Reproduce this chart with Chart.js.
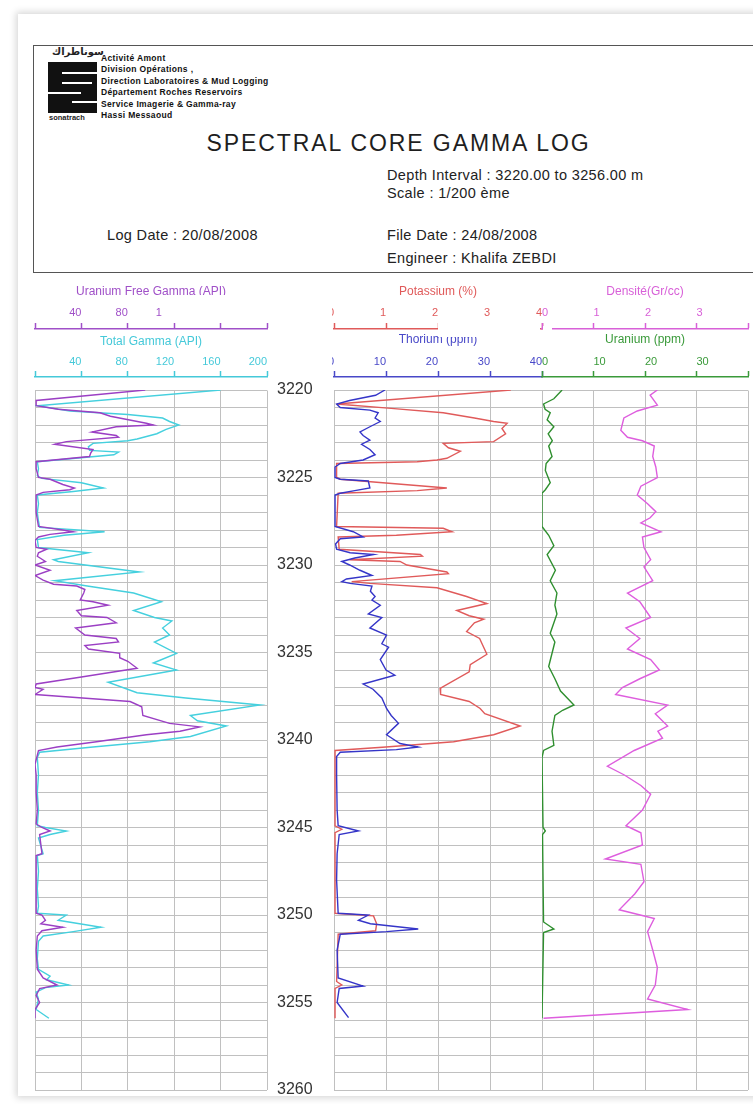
<!DOCTYPE html>
<html>
<head>
<meta charset="utf-8">
<title>Spectral Core Gamma Log</title>
<script src="https://cdn.jsdelivr.net/npm/chart.js@4.4.1/dist/chart.umd.min.js"></script>
<style>
html, body { margin: 0; padding: 0; background: #fff; }
body { width: 753px; height: 1104px; overflow: hidden; position: relative; font-family: "Liberation Sans", Arial, sans-serif; color: #222; }
#page { position: absolute; left: 18px; top: 14px; width: 780px; height: 1082px; background: #fff; box-shadow: 0 0 7px 2px rgba(0,0,0,0.16); }
#hdr { position: absolute; left: 33px; top: 45px; width: 760px; height: 228px; border: 1px solid #555; box-sizing: border-box; }
.t { position: absolute; white-space: nowrap; }
.org { left: 101px; top: 53px; font-size: 8.5px; letter-spacing: 0.35px; font-weight: bold; line-height: 11.4px; color: #111; }
.info { font-size: 14.5px; letter-spacing: 0.35px; color: #222; }
.blk { position: absolute; background: #111; }
.wh { position: absolute; background: #fff; }
canvas { position: absolute; }
.mask { position: absolute; background: #fff; }
</style>
</head>
<body>
<div id="page"></div>
<div id="hdr"></div>

<!-- logo -->
<div class="t" style="left:52px;top:46px;font-size:10px;font-weight:bold;font-family:'DejaVu Sans';">سوناطراك</div>
<div class="blk" style="left:48px;top:62px;width:49px;height:51px;"></div>
<div class="wh" style="left:62px;top:72px;width:35px;height:2px;"></div>
<div class="wh" style="left:62px;top:82px;width:30px;height:2px;"></div>
<div class="wh" style="left:48px;top:92px;width:33px;height:2px;"></div>
<div class="wh" style="left:72px;top:101px;width:25px;height:2px;"></div>
<div class="t" style="left:49px;top:113px;font-size:7.5px;font-weight:bold;">sonatrach</div>

<div class="t org">Activité Amont<br>Division Opérations ,<br>Direction Laboratoires &amp; Mud Logging<br>Département Roches Reservoirs<br>Service Imagerie &amp; Gamma-ray<br>Hassi Messaoud</div>

<div class="t" style="left:200px;width:397px;top:131px;text-align:center;font-size:23px;letter-spacing:1.9px;line-height:24px;color:#1e1e1e;">SPECTRAL CORE GAMMA LOG</div>
<div class="t info" style="left:387px;top:167px;">Depth Interval : 3220.00 to 3256.00 m</div>
<div class="t info" style="left:387px;top:185px;">Scale : 1/200 ème</div>
<div class="t info" style="left:107px;top:227px;">Log Date : 20/08/2008</div>
<div class="t info" style="left:387px;top:227px;">File Date : 24/08/2008</div>
<div class="t info" style="left:387px;top:250px;">Engineer : Khalifa ZEBDI</div>

<canvas id="track1" width="289" height="824" style="left:33px;top:270px;"></canvas>
<canvas id="track2" width="212" height="824" style="left:332px;top:270px;"></canvas>
<canvas id="track3" width="213" height="824" style="left:540px;top:270px;"></canvas>

<!-- pieces of the heading that are covered in the original print -->
<div class="mask" style="left:186px;top:295px;width:52px;height:6px;"></div>
<div class="mask" style="left:162px;top:307px;width:106px;height:15px;"></div>
<div class="mask" style="left:438px;top:316px;width:102px;height:21px;"></div>
<div class="mask" style="left:543px;top:326px;width:9px;height:6px;"></div>

<script>
// depth range (m)
var depthTop = 3220;
var depthBottom = 3260;

// [min, max, step] of the scales
var gammaRange = [0, 200, 40];
var potassiumRange = [0, 4, 1];
var thoriumRange = [0, 40, 10];
var uraniumRange = [0, 40, 10];
var densityRange = [0, 4, 1];

// curves: [depth (m), value]
var uraniumFreeGamma = [
  [3220.0, 95], [3220.6, 1], [3220.9, 1], [3221.1, 20], [3221.3, 56], [3221.5, 65], [3221.9, 96], [3222.0, 102],
  [3222.1, 70], [3222.4, 49], [3222.6, 70], [3222.7, 72], [3222.95, 27], [3223.1, 17], [3223.4, 50], [3223.6, 48],
  [3223.8, 47], [3224.1, 1], [3224.5, 1], [3225.0, 3], [3225.1, 13], [3225.4, 24], [3225.6, 34], [3225.7, 30],
  [3225.85, 7], [3226.0, 1], [3227.0, 1], [3227.8, 3], [3228.0, 24], [3228.1, 33], [3228.25, 13], [3228.4, 3],
  [3228.6, 0], [3229.0, 1], [3229.1, 10], [3229.3, 3], [3229.5, 2], [3229.8, 9], [3230.0, 0], [3230.3, 13],
  [3230.6, 0], [3230.86, 7], [3231.1, 16], [3231.2, 36], [3231.4, 43], [3231.6, 42], [3232.0, 39], [3232.1, 50],
  [3232.3, 63], [3232.6, 36], [3232.9, 40], [3233.0, 62], [3233.3, 70], [3233.6, 35], [3234.0, 43], [3234.2, 70],
  [3234.4, 72], [3234.6, 43], [3234.8, 46], [3235.05, 73], [3235.3, 73], [3235.5, 80], [3235.9, 88], [3236.4, 40],
  [3236.8, 1], [3237.0, 0], [3237.1, 7], [3237.4, 0], [3237.8, 82], [3238.1, 92], [3238.6, 93], [3239.05, 116],
  [3239.25, 142], [3239.5, 125], [3239.7, 96], [3240.1, 53], [3240.4, 19], [3240.6, 3], [3241.4, 0], [3242.0, 1],
  [3243.0, 1], [3244.0, 2], [3244.8, 1], [3245.0, 6], [3245.2, 13], [3245.4, 4], [3246.5, 6], [3246.6, 1],
  [3248.0, 1], [3249.9, 1], [3250.0, 6], [3250.3, 9], [3250.5, 5], [3250.7, 24], [3250.9, 6], [3251.2, 2],
  [3252.0, 1], [3253.1, 2], [3253.6, 7], [3254.0, 19], [3254.2, 4], [3254.6, 1], [3255.0, 4], [3255.4, 0], [3255.9, 0]
];

var totalGamma = [
  [3220.0, 160], [3220.9, 2], [3221.2, 30], [3221.4, 80], [3221.6, 110], [3221.8, 116], [3222.0, 124], [3222.25, 113],
  [3222.5, 105], [3222.8, 88], [3222.9, 80], [3223.05, 50], [3223.25, 46], [3223.45, 47], [3223.55, 72], [3223.7, 68],
  [3224.1, 2], [3224.5, 3], [3224.9, 2], [3225.05, 6], [3225.3, 40], [3225.6, 59], [3225.8, 33], [3226.0, 2],
  [3226.5, 3], [3227.0, 2], [3227.5, 3], [3227.85, 4], [3228.1, 60], [3228.3, 25], [3228.55, 2], [3229.0, 3],
  [3229.3, 46], [3229.7, 16], [3229.8, 20], [3230.4, 90], [3230.9, 17], [3231.2, 45], [3231.6, 85], [3232.1, 109],
  [3232.6, 85], [3233.0, 103], [3233.2, 118], [3233.6, 110], [3234.0, 116], [3234.4, 103], [3235.05, 122], [3235.6, 102],
  [3236.0, 122], [3236.7, 63], [3237.3, 88], [3237.6, 130], [3238.0, 194], [3238.6, 134], [3238.9, 140], [3239.2, 165],
  [3239.8, 134], [3240.1, 99], [3240.4, 50], [3240.7, 4], [3241.0, 2], [3242.0, 3], [3243.0, 2], [3244.0, 3],
  [3244.9, 2], [3245.0, 9], [3245.2, 27], [3245.4, 13], [3245.6, 3], [3246.5, 7], [3246.6, 2], [3247.5, 3],
  [3248.5, 2], [3249.5, 3], [3249.9, 2], [3250.0, 27], [3250.3, 20], [3250.7, 57], [3250.95, 33], [3251.2, 7],
  [3251.5, 3], [3252.5, 2], [3253.1, 3], [3253.5, 13], [3253.7, 10], [3254.0, 29], [3254.15, 9], [3254.4, 1],
  [3254.8, 3], [3255.4, 1], [3255.9, 12]
];

var thorium = [
  [3220.0, 9.8], [3220.3, 8], [3220.6, 3], [3220.8, 0.5], [3221.0, 1.2], [3221.15, 6.9], [3221.3, 8.5], [3221.6, 7.9],
  [3221.8, 8.9], [3222.1, 6.9], [3222.4, 5], [3222.6, 5.6], [3222.86, 6.9], [3223.1, 5.3], [3223.4, 6.9], [3223.7, 7.9],
  [3224.0, 5.6], [3224.2, 1.2], [3224.4, 0.2], [3225.0, 0.2], [3225.1, 1.2], [3225.2, 6.6], [3225.6, 6.9], [3225.75, 4],
  [3225.9, 1.2], [3226.0, 0.2], [3227.8, 0.2], [3228.1, 3.7], [3228.4, 5.6], [3228.5, 1.2], [3228.8, 0.3], [3229.1, 0.5],
  [3229.3, 3.1], [3229.4, 7.6], [3229.6, 4], [3229.8, 1.5], [3230.0, 3], [3230.3, 5], [3230.6, 7.3], [3230.8, 2.4],
  [3230.95, 1.5], [3231.05, 3.1], [3231.2, 7.3], [3231.5, 7], [3231.8, 7.9], [3232.0, 7.3], [3232.3, 8.9], [3232.8, 6.6],
  [3233.0, 9.2], [3233.6, 6.9], [3234.0, 10.1], [3234.5, 9.2], [3234.7, 10.5], [3235.4, 8.9], [3236.0, 10], [3236.3, 11.7],
  [3236.8, 5.6], [3237.1, 7.5], [3237.6, 9.2], [3238.2, 10.1], [3238.6, 11], [3239.05, 12.4], [3239.7, 10.1], [3240.2, 12.7],
  [3240.4, 16.2], [3240.55, 12], [3240.7, 1.2], [3240.95, 0.5], [3242.0, 0.5], [3244.0, 0.6], [3244.9, 0.8], [3245.2, 4.7],
  [3245.4, 1.0], [3246.5, 0.6], [3248.0, 0.5], [3249.9, 0.8], [3250.0, 6.6], [3250.3, 4.7], [3250.5, 7], [3250.8, 16.2],
  [3250.95, 10.1], [3251.1, 1.2], [3252.0, 0.6], [3253.6, 0.8], [3254.06, 5.6], [3254.2, 1.0], [3255.0, 0.6], [3255.86, 2.8]
];

var potassium = [
  [3220.0, 3.4], [3220.8, 0.05], [3221.05, 1.1], [3221.3, 2.1], [3221.6, 2.7], [3221.8, 3.07], [3221.9, 3.33], [3222.2, 3.23],
  [3222.5, 3.3], [3222.95, 3.07], [3223.05, 2.1], [3223.3, 2.2], [3223.5, 2.43], [3223.9, 2.17], [3224.0, 1.98], [3224.1, 1.6],
  [3224.2, 0.05], [3225.0, 0.05], [3225.1, 0.12], [3225.6, 2.17], [3225.75, 1.6], [3225.9, 0.08], [3227.8, 0.05], [3227.9, 2.1],
  [3228.1, 2.27], [3228.3, 1.2], [3228.4, 0.08], [3229.1, 0.1], [3229.4, 1.66], [3229.5, 1.7], [3229.7, 0.3], [3229.8, 1.27],
  [3230.0, 1.4], [3230.4, 2.17], [3230.5, 2.2], [3230.95, 0.34], [3231.05, 0.69], [3231.3, 1.98], [3231.8, 2.55], [3232.2, 2.94],
  [3232.6, 2.36], [3232.9, 2.6], [3233.1, 2.88], [3233.3, 2.7], [3233.8, 2.55], [3234.2, 2.8], [3235.1, 2.94], [3235.7, 2.62],
  [3236.1, 2.6], [3237.05, 2.04], [3237.4, 2.05], [3237.8, 2.6], [3238.2, 2.81], [3238.5, 2.9], [3239.2, 3.58], [3239.7, 3.07],
  [3240.1, 2.3], [3240.4, 1.0], [3240.6, 0.02], [3244.9, 0.02], [3245.1, 0.15], [3245.3, 0.02], [3249.9, 0.02], [3250.05, 0.76],
  [3250.5, 0.82], [3250.9, 0.8], [3251.1, 0.08], [3253.8, 0.05], [3254.0, 0.15], [3254.2, 0.02], [3255.9, 0.02]
];

var uranium = [
  [3220.0, 3.9], [3220.5, 2.3], [3220.8, 0.3], [3221.1, 0.6], [3221.3, 1.6], [3221.7, 1.0], [3222.1, 2.3], [3222.5, 1.2],
  [3222.9, 2.0], [3223.2, 1.3], [3223.8, 1.95], [3224.2, 0.8], [3224.6, 0.65], [3225.3, 1.6], [3225.7, 0.65], [3225.9, 0],
  [3227.8, 0], [3228.3, 1.3], [3228.9, 2.3], [3229.4, 1.0], [3230.3, 2.6], [3230.9, 1.6], [3231.6, 2.9], [3232.3, 2.5],
  [3232.8, 2.9], [3233.9, 1.6], [3234.4, 2.5], [3235.8, 1.3], [3236.5, 2.5], [3237.2, 3.6], [3238.0, 6.2], [3238.3, 4],
  [3238.6, 2.5], [3239.5, 1.95], [3240.3, 2.3], [3240.6, 0.3], [3241.0, 0], [3245.0, 0.2], [3245.2, 0.65], [3245.4, 0.1],
  [3250.4, 0.3], [3250.8, 2.3], [3251.0, 0.3], [3255.9, 0.0]
];

var density = [
  [3220.0, 2.24], [3220.3, 2.1], [3220.86, 2.24], [3221.2, 1.85], [3221.6, 1.59], [3222.3, 1.53], [3222.7, 1.66], [3222.9, 1.95],
  [3223.2, 2.18], [3223.8, 2.15], [3224.4, 2.21], [3225.0, 2.24], [3225.5, 1.92], [3226.0, 1.85], [3226.5, 2.05], [3226.95, 2.21],
  [3227.3, 2.1], [3227.6, 1.92], [3228.1, 2.31], [3228.4, 1.95], [3229.0, 1.98], [3229.7, 2.11], [3230.1, 1.98], [3230.9, 2.15],
  [3231.6, 1.66], [3232.1, 1.9], [3233.0, 2.11], [3233.6, 1.63], [3234.2, 1.9], [3234.8, 1.66], [3235.4, 2.11], [3236.0, 2.28],
  [3236.5, 1.9], [3237.0, 1.56], [3237.4, 1.43], [3238.0, 2.44], [3238.5, 2.2], [3239.2, 2.44], [3239.5, 2.25], [3239.9, 2.34],
  [3240.6, 1.79], [3241.5, 1.27], [3242.0, 1.6], [3242.6, 1.92], [3243.1, 2.11], [3244.0, 1.95], [3244.9, 1.63], [3245.3, 1.92],
  [3246.0, 1.95], [3246.8, 1.23], [3247.1, 1.92], [3248.1, 1.98], [3248.8, 1.8], [3249.7, 1.5], [3250.2, 2.18], [3250.95, 2.05],
  [3252.0, 2.15], [3253.0, 2.24], [3254.0, 2.2], [3254.8, 2.05], [3255.4, 2.83], [3255.9, 0.03]
];

var gridColor = '#c0c0c0';

function points(curve) {
  return curve.map(function (p) { return { x: p[1], y: p[0] }; });
}

function curve(label, data, color, axis) {
  return { label: label, data: points(data), xAxisID: axis, borderColor: color, borderWidth: 1.4,
           showLine: true, pointRadius: 0, tension: 0, fill: false };
}

// one scale in the heading of a track; "inner" is the one that also draws the grid
function headScale(text, color, range, weight, height, titlePad, labelPad, align, inner, hide) {
  return {
    type: 'linear', position: 'top', weight: weight,
    min: range[0], max: range[1],
    title: { display: true, text: text, color: color, font: { size: 12 }, padding: { top: titlePad, bottom: 0 } },
    ticks: {
      stepSize: range[2], color: color, font: { size: 11 }, padding: labelPad, align: align,
      autoSkip: false, maxRotation: 0,
      callback: function (v) { return hide.indexOf(v) >= 0 ? '' : v; }
    },
    grid: { drawOnChartArea: inner, color: gridColor, lineWidth: 1, tickLength: 6, tickColor: color, tickWidth: 1.5 },
    border: { display: true, color: color, width: 1.5 },
    afterFit: function (s) { s.height = height; s.paddingLeft = 0; s.paddingRight = 0; }
  };
}

// empty band between the heading and the grid
var gapScale = {
  type: 'linear', position: 'top', weight: 0,
  ticks: { display: false }, grid: { display: false }, border: { display: false },
  afterFit: function (s) { s.height = 13; s.paddingLeft = 0; s.paddingRight = 0; }
};

function depthScale(showLabels) {
  return {
    type: 'linear', reverse: true, min: depthTop, max: depthBottom, position: showLabels ? 'right' : 'left',
    ticks: {
      display: showLabels, stepSize: 1, autoSkip: false, padding: 10, color: '#333', font: { size: 16 },
      callback: function (v) { return v % 5 === 0 ? v : ''; }
    },
    grid: { color: gridColor, lineWidth: 1, drawTicks: false },
    border: { display: false },
    afterFit: function (s) { s.width = showLabels ? 55 : 0; s.paddingTop = 0; s.paddingBottom = 0; }
  };
}

var common = {
  responsive: false, animation: false, events: [],
  plugins: { legend: { display: false }, tooltip: { enabled: false } }
};

Chart.defaults.font.family = '"Liberation Sans", Arial, sans-serif';

new Chart(document.getElementById('track1'), {
  type: 'scatter',
  data: {
    datasets: [
      curve('Uranium Free Gamma (API)', uraniumFreeGamma, '#9b3fc4', 'ufg'),
      curve('Total Gamma (API)', totalGamma, '#45d0de', 'tg')
    ]
  },
  options: Object.assign({}, common, {
    layout: { padding: { left: 2, top: 14, right: 0, bottom: 4 } },
    scales: {
      ufg: headScale('Uranium Free Gamma (API)', '#a050c8', gammaRange, 2, 45, 0, 3, 'end', false, [0]),
      tg: headScale('Total Gamma (API)', '#45c9d9', gammaRange, 1, 48, 5, 2, 'end', true, [0]),
      gap: gapScale,
      y: depthScale(true)
    }
  })
});

new Chart(document.getElementById('track2'), {
  type: 'scatter',
  data: {
    datasets: [
      curve('Thorium (ppm)', thorium, '#3535c8', 'th'),
      curve('Potassium (%)', potassium, '#e05a5a', 'k')
    ]
  },
  options: Object.assign({}, common, {
    layout: { padding: { left: 2, top: 14, right: 2, bottom: 4 } },
    scales: {
      k: headScale('Potassium (%)', '#e05a5a', potassiumRange, 2, 45, 0, 3, 'end', false, []),
      th: headScale('Thorium (ppm)', '#4848c8', thoriumRange, 1, 48, 3, 2, 'end', true, []),
      gap: gapScale,
      y: depthScale(false)
    }
  })
});

new Chart(document.getElementById('track3'), {
  type: 'scatter',
  data: {
    datasets: [
      curve('Uranium (ppm)', uranium, '#2f8f2f', 'u'),
      curve('Densité(Gr/cc)', density, '#de5ede', 'rho')
    ]
  },
  options: Object.assign({}, common, {
    layout: { padding: { left: 2, top: 14, right: 5, bottom: 4 } },
    scales: {
      rho: headScale('Densité(Gr/cc)', '#d860d8', densityRange, 2, 45, 0, 3, 'start', false, [4]),
      u: headScale('Uranium (ppm)', '#3a9a3a', uraniumRange, 1, 48, 3, 2, 'start', true, [40]),
      gap: gapScale,
      y: depthScale(false)
    }
  })
});
</script>
</body>
</html>
